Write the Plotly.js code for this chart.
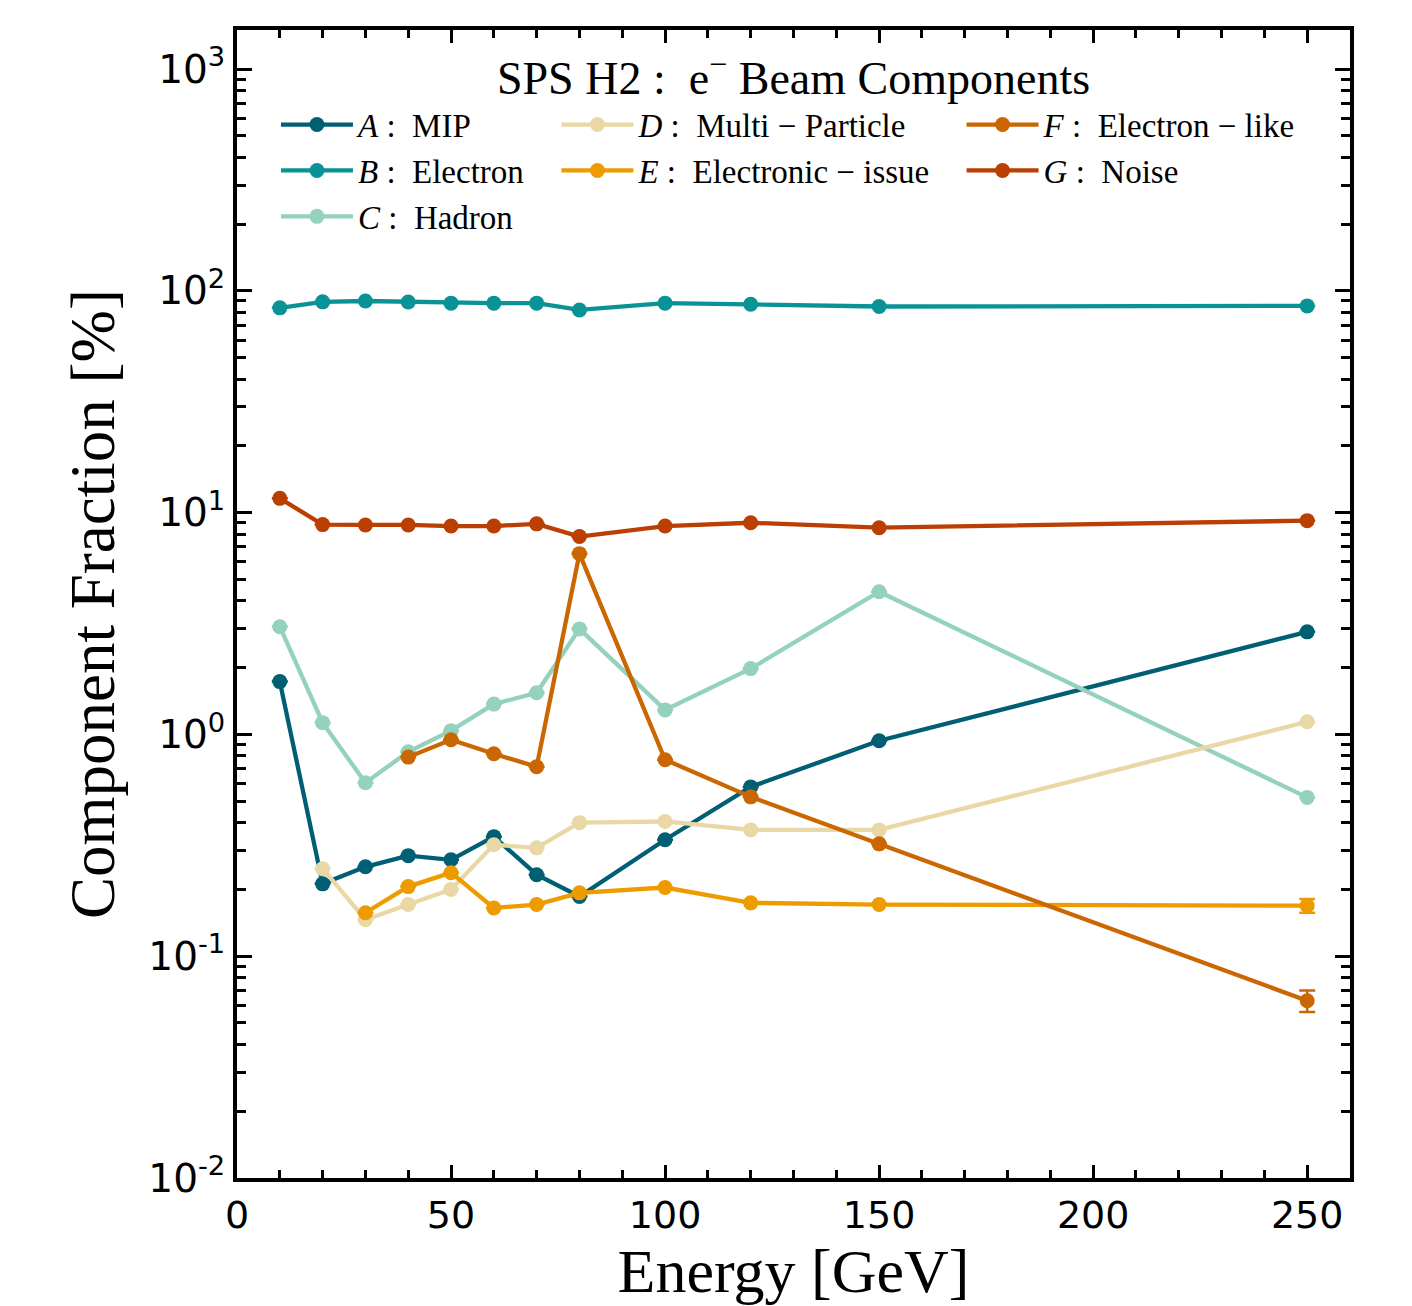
<!DOCTYPE html>
<html>
<head>
<meta charset="utf-8">
<script src="https://cdn.plot.ly/plotly-3.0.1.min.js"></script>
<style>html,body{margin:0;padding:0;background:#fff;}#chart{width:1412px;height:1306px;}</style>
</head>
<body>
<div id="chart"></div>
<script>
const energy = [10, 20, 30, 40, 50, 60, 70, 80, 100, 120, 150, 250];
const mip = [1.73, 0.212, 0.253, 0.284, 0.272, 0.346, 0.233, 0.186, 0.335, 0.58, 0.936, 2.9];
const electron = [83.8, 89.2, 90, 89, 88, 88, 88, 82, 88, 87, 85, 85.5];
const hadron = [3.06, 1.13, 0.605, 0.835, 1.04, 1.37, 1.54, 2.99, 1.29, 1.98, 4.4, 0.52];
const multiParticle = [null, 0.248, 0.146, 0.171, 0.2, 0.318, 0.308, 0.4, 0.405, 0.371, 0.371, 1.14];
const electronicIssue = [null, null, 0.157, 0.206, 0.238, 0.165, 0.171, 0.193, 0.204, 0.174, 0.171, 0.169];
const electronLike = [null, null, null, 0.79, 0.946, 0.818, 0.715, 6.53, 0.769, 0.523, 0.321, 0.063];
const noise = [11.6, 8.83, 8.8, 8.8, 8.7, 8.7, 8.9, 7.8, 8.7, 9.0, 8.55, 9.2];

const errElectronicIssue = [0, 0, 0, 0, 0, 0, 0, 0, 0, 0, 0, 0.012];
const errElectronLike = [0, 0, 0, 0, 0, 0, 0, 0, 0, 0, 0, 0.007];
const errZero = [0, 0, 0, 0, 0, 0, 0, 0, 0, 0, 0, 0];

const xTickVals = [0, 50, 100, 150, 200, 250];
const xTickText = ['0', '50', '100', '150', '200', '250'];
const yTickVals = [0.01, 0.1, 1, 10, 100, 1000];
const yTickText = ['10<sup>-2</sup>', '10<sup>-1</sup>', '10<sup>0</sup>', '10<sup>1</sup>', '10<sup>2</sup>', '10<sup>3</sup>'];

const names = [
  '<i>A</i> :  MIP',
  '<i>B</i> :  Electron',
  '<i>C</i> :  Hadron',
  '<i>D</i> :  Multi − Particle',
  '<i>E</i> :  Electronic − issue',
  '<i>F</i> :  Electron − like',
  '<i>G</i> :  Noise'
];
const colors = ['#005f73', '#0a9396', '#94d2bd', '#e9d8a6', '#ee9b00', '#ca6702', '#bb3e03'];
const series = [mip, electron, hadron, multiParticle, electronicIssue, electronLike, noise];
const errors = [errZero, errZero, errZero, errZero, errElectronicIssue, errElectronLike, errZero];
const legendIds = ['legend', 'legend', 'legend', 'legend2', 'legend2', 'legend3', 'legend3'];

const traces = series.map((vals, i) => ({
  type: 'scatter',
  mode: 'lines+markers',
  x: energy,
  y: vals,
  name: names[i],
  legend: legendIds[i],
  line: {color: colors[i], width: 4.3},
  marker: {color: colors[i], size: 15},
  error_y: {type: 'data', array: errors[i], visible: true, color: colors[i], thickness: 2.5, width: 8},
  connectgaps: false
}));

const serif = 'Liberation Serif, Times New Roman, serif';
const sans = 'DejaVu Sans, sans-serif';

const legendCommon = {
  bgcolor: 'rgba(0,0,0,0)',
  borderwidth: 0,
  orientation: 'v',
  xanchor: 'left',
  yanchor: 'top',
  yref: 'paper',
  font: {family: serif, size: 33, color: '#000'},
  tracegroupgap: 0,
  itemwidth: 72
};

const layout = {
  width: 1412,
  height: 1306,
  paper_bgcolor: '#fff',
  plot_bgcolor: '#fff',
  margin: {l: 237, r: 62, t: 30, b: 128},
  showlegend: true,
  title: {
    text: 'SPS H2 :  e<sup>−</sup> Beam Components',
    font: {family: serif, size: 46, color: '#000'},
    x: 0.5, xref: 'paper', xanchor: 'center',
    y: 1 - 78 / 1306, yref: 'container', yanchor: 'middle'
  },
  legend: Object.assign({}, legendCommon, {x: 0.035, y: 0.942}),
  legend2: Object.assign({}, legendCommon, {x: 0.287, y: 0.942}),
  legend3: Object.assign({}, legendCommon, {x: 0.651, y: 0.942}),
  xaxis: {
    range: [0, 260],
    tickmode: 'array',
    tickvals: xTickVals,
    ticktext: xTickText,
    ticks: 'inside',
    ticklen: 13,
    tickwidth: 3,
    tickcolor: '#000',
    minor: {dtick: 10, ticks: 'inside', ticklen: 8, tickwidth: 3, tickcolor: '#000', showgrid: false},
    showline: true,
    linewidth: 4,
    linecolor: '#000',
    mirror: 'allticks',
    showgrid: false,
    zeroline: false,
    tickfont: {family: sans, size: 38, color: '#000'},
    title: {text: 'Energy [GeV]', font: {family: serif, size: 62, color: '#000'}, standoff: 6}
  },
  yaxis: {
    type: 'log',
    range: [-2, 3.176],
    tickmode: 'array',
    tickvals: yTickVals,
    ticktext: yTickText,
    ticks: 'inside',
    ticklen: 15,
    tickwidth: 3,
    tickcolor: '#000',
    minor: {dtick: 'D1', ticks: 'inside', ticklen: 9, tickwidth: 3, tickcolor: '#000', showgrid: false},
    showline: true,
    linewidth: 4,
    linecolor: '#000',
    mirror: 'allticks',
    showgrid: false,
    zeroline: false,
    tickfont: {family: sans, size: 39, color: '#000'},
    title: {text: 'Component Fraction [%]', font: {family: serif, size: 63, color: '#000'}, standoff: 14}
  }
};

Plotly.newPlot('chart', traces, layout, {displayModeBar: false, responsive: false});
</script>
</body>
</html>
